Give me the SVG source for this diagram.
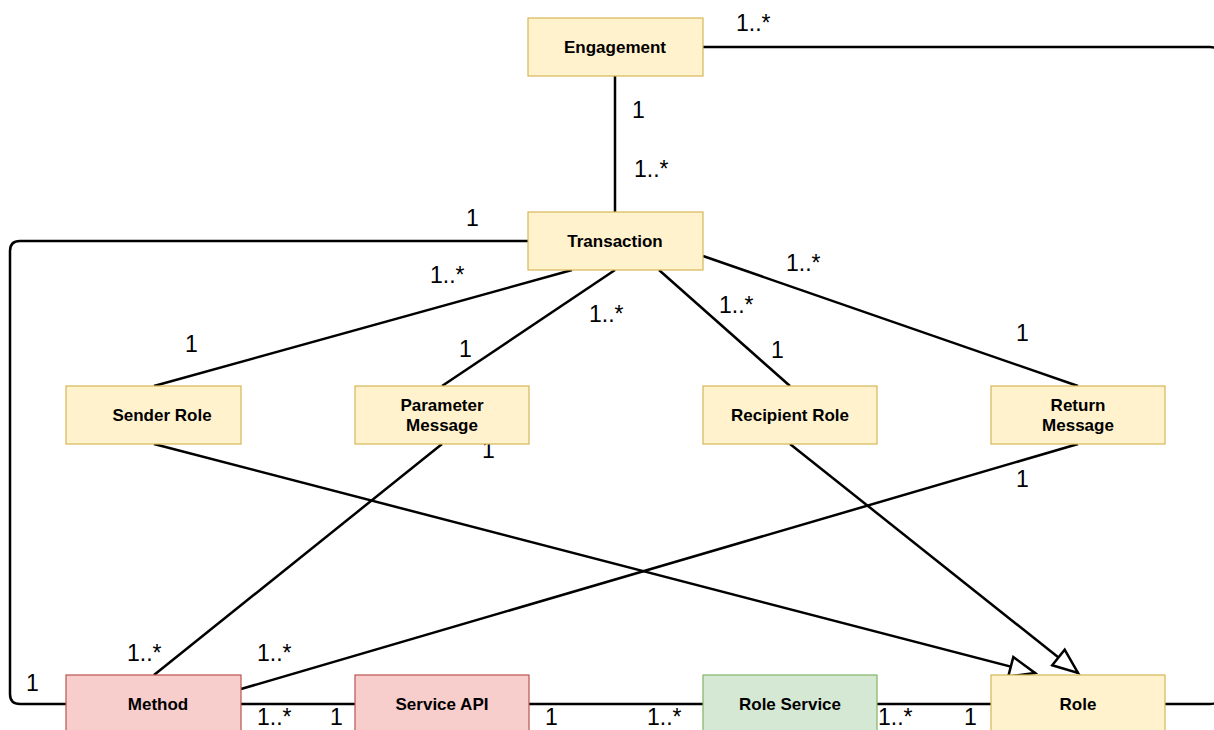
<svg xmlns="http://www.w3.org/2000/svg" width="1214" height="730" viewBox="0 0 1214 730">
<defs>
<style>
.y{fill:#fff2cc;stroke:#d6b656;stroke-width:1.2}
.r{fill:#f8cecc;stroke:#b85450;stroke-width:1.2}
.g{fill:#d5e8d4;stroke:#82b366;stroke-width:1.2}
.t{font-family:"Liberation Sans",Arial,sans-serif;font-weight:bold;font-size:17px;fill:#000;text-anchor:middle}
.m{font-family:"Liberation Sans",Arial,sans-serif;font-size:23px;fill:#000}
.c{fill:none;stroke:#000;stroke-width:2.5}
</style>
<marker id="tri" markerWidth="30" markerHeight="24" refX="27" refY="12" orient="auto" markerUnits="userSpaceOnUse" viewBox="0 0 30 24">
<path d="M2,2 L27,12 L2,22 Z" fill="#fff" stroke="#000" stroke-width="2.5"/>
</marker>
</defs>
<rect width="1214" height="730" fill="#fff"/>
<g id="connectors">
<path class="c" d="M703,47 H1210 Q1220,47 1220,57 V694 Q1220,704 1210,704 H1165"/>
<path class="c" d="M615,76 V212"/>
<path class="c" d="M528,241 H20 Q10,241 10,251 V694 Q10,704 20,704 H66"/>
<path class="c" d="M572,270 L154,386"/>
<path class="c" d="M615,270 L442,386"/>
<path class="c" d="M659,270 L790,386"/>
<path class="c" d="M703,256 L1078,386"/>
<path class="c" d="M154,444 L1035,673" marker-end="url(#tri)"/>
<path class="c" d="M790,444 L1078,673" marker-end="url(#tri)"/>
<path class="c" d="M442,444 L154,675"/>
<path class="c" d="M1078,444 L241,689"/>
<path class="c" d="M241,704 H355"/>
<path class="c" d="M529,704 H703"/>
<path class="c" d="M877,704 H991"/>
</g>
<g id="labels">
<text class="m" x="736" y="31">1..*</text>
<text class="m" x="632" y="118">1</text>
<text class="m" x="634" y="177">1..*</text>
<text class="m" x="466" y="226">1</text>
<text class="m" x="430" y="283">1..*</text>
<text class="m" x="185" y="352">1</text>
<text class="m" x="589" y="322">1..*</text>
<text class="m" x="459" y="357">1</text>
<text class="m" x="719" y="313">1..*</text>
<text class="m" x="771" y="358">1</text>
<text class="m" x="786" y="271">1..*</text>
<text class="m" x="1016" y="341">1</text>
<text class="m" x="482" y="458">1</text>
<text class="m" x="1016" y="487">1</text>
<text class="m" x="127" y="661">1..*</text>
<text class="m" x="257" y="661">1..*</text>
<text class="m" x="26" y="691">1</text>
<text class="m" x="257" y="725">1..*</text>
<text class="m" x="330" y="725">1</text>
<text class="m" x="545" y="725">1</text>
<text class="m" x="647" y="725">1..*</text>
<text class="m" x="878" y="725">1..*</text>
<text class="m" x="964" y="725">1</text>
</g>
<g id="engagement"><rect class="y" x="528" y="18" width="175" height="58"/><text class="t" x="615" y="53">Engagement</text></g>
<g id="transaction"><rect class="y" x="528" y="212" width="175" height="58"/><text class="t" x="615" y="247">Transaction</text></g>
<g id="sender-role"><rect class="y" x="66" y="386" width="175" height="58"/><text class="t" x="162" y="421">Sender Role</text></g>
<g id="parameter-message"><rect class="y" x="355" y="386" width="174" height="58"/><text class="t" x="442" y="411">Parameter</text><text class="t" x="442" y="431">Message</text></g>
<g id="recipient-role"><rect class="y" x="703" y="386" width="174" height="58"/><text class="t" x="790" y="421">Recipient Role</text></g>
<g id="return-message"><rect class="y" x="991" y="386" width="174" height="58"/><text class="t" x="1078" y="411">Return</text><text class="t" x="1078" y="431">Message</text></g>
<g id="method"><rect class="r" x="66" y="675" width="175" height="60"/><text class="t" x="158" y="710">Method</text></g>
<g id="service-api"><rect class="r" x="355" y="675" width="174" height="60"/><text class="t" x="442" y="710">Service API</text></g>
<g id="role-service"><rect class="g" x="703" y="675" width="174" height="60"/><text class="t" x="790" y="710">Role Service</text></g>
<g id="role"><rect class="y" x="991" y="675" width="174" height="60"/><text class="t" x="1078" y="710">Role</text></g>
</svg>
